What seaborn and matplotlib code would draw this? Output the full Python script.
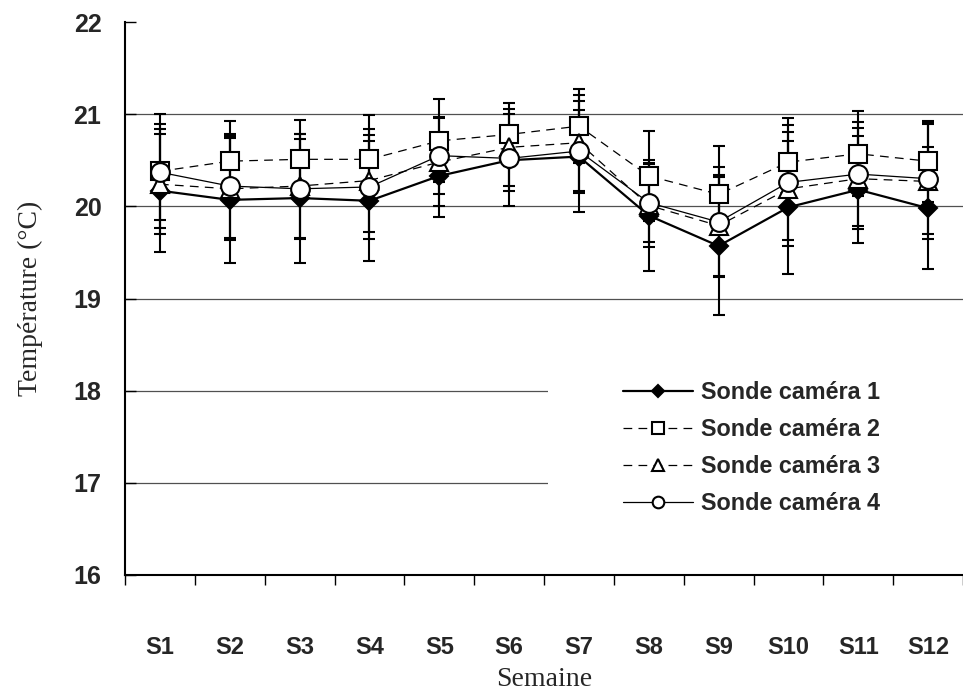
import numpy as np
import matplotlib
matplotlib.use("Agg")
import matplotlib.pyplot as plt
from matplotlib.patches import Rectangle
import seaborn as sns

# ---------------- data ----------------
weeks = ["S1", "S2", "S3", "S4", "S5", "S6", "S7", "S8", "S9", "S10", "S11", "S12"]
labels = ["Sonde caméra 1", "Sonde caméra 2", "Sonde caméra 3", "Sonde caméra 4"]

cam1 = [20.17, 20.07, 20.09, 20.06, 20.33, 20.50, 20.54, 19.90, 19.57, 19.99, 20.18, 19.98]
cam1_sd = [0.67, 0.69, 0.70, 0.65, 0.45, 0.50, 0.60, 0.60, 0.75, 0.72, 0.58, 0.66]
cam2 = [20.38, 20.49, 20.51, 20.51, 20.71, 20.78, 20.87, 20.33, 20.13, 20.48, 20.57, 20.49]
cam2_sd = [0.62, 0.44, 0.43, 0.48, 0.45, 0.34, 0.40, 0.49, 0.53, 0.48, 0.46, 0.44]
cam3 = [20.24, 20.19, 20.22, 20.28, 20.48, 20.64, 20.69, 20.01, 19.79, 20.19, 20.30, 20.27]
cam3_sd = [0.54, 0.55, 0.56, 0.56, 0.48, 0.42, 0.52, 0.45, 0.55, 0.62, 0.55, 0.62]
cam4 = [20.37, 20.22, 20.19, 20.21, 20.55, 20.52, 20.60, 20.04, 19.83, 20.26, 20.35, 20.30]
cam4_sd = [0.52, 0.56, 0.54, 0.56, 0.42, 0.35, 0.45, 0.43, 0.60, 0.62, 0.56, 0.60]

y_ticks = [16, 17, 18, 19, 20, 21, 22]

# ---------------- style ----------------
sns.set_style("white")
plt.rcParams["font.family"] = ["Liberation Sans", "DejaVu Sans"]

fig = plt.figure(figsize=(9.63, 6.91), dpi=100)
ax = fig.add_axes([125 / 963, 1 - 575 / 691, 1 - 125 / 963, (575 - 22) / 691])

x = np.arange(len(weeks))

series = [
    dict(v=cam1, sd=cam1_sd, ls="-", lw=1.6, marker="D", ms=9.5, mfc="black"),
    dict(v=cam2, sd=cam2_sd, ls=(0, (7, 5)), lw=0.9, marker="s", ms=13, mfc="white"),
    dict(v=cam3, sd=cam3_sd, ls=(0, (7, 5)), lw=0.9, marker="^", ms=13, mfc="white"),
    dict(v=cam4, sd=cam4_sd, ls="-", lw=0.9, marker="o", ms=13.5, mfc="white"),
]

for s in series:
    ax.errorbar(x, s["v"], yerr=s["sd"], fmt="none", ecolor="black",
                elinewidth=1.5, capsize=4.3, capthick=1.5, zorder=2)

for i, (s, lab) in enumerate(zip(series, labels)):
    sns.lineplot(x=x, y=s["v"], ax=ax, color="black", linewidth=s["lw"],
                 linestyle=s["ls"], marker=s["marker"], markersize=s["ms"],
                 markerfacecolor=s["mfc"], markeredgecolor="black",
                 markeredgewidth=1.5, errorbar=None, label=lab, zorder=3 + i)

# axes limits and ticks
ax.set_xlim(-0.5, len(weeks) - 0.5)
ax.set_ylim(y_ticks[0], y_ticks[-1])
ax.set_yticks(y_ticks)
ax.set_yticklabels([str(t) for t in y_ticks], fontsize=18, fontweight="bold")
ax.set_xticks(x)
ax.set_xticklabels(weeks, fontsize=17, fontweight="bold")
ax.set_xticks(np.arange(-0.5, len(weeks), 1.0), minor=True)
ax.tick_params(axis="x", which="major", length=0, pad=44)
ax.tick_params(axis="x", which="minor", direction="out", length=7, width=1, color="black", bottom=True)
ax.tick_params(axis="y", which="major", direction="in", length=8, width=1, color="black", left=True, pad=17)

# gridlines (none on the top value)
ax.yaxis.grid(True, color="#505050", linewidth=0.9, zorder=0)
ax.xaxis.grid(False)
ax.set_axisbelow(True)
gl = ax.yaxis.get_gridlines()
gl[-1].set_visible(False)

for sp in ["top", "right"]:
    ax.spines[sp].set_visible(False)
for sp in ["left", "bottom"]:
    ax.spines[sp].set_color("black")
    ax.spines[sp].set_linewidth(1.5)

ax.set_xlabel("Semaine", family=["Liberation Serif", "DejaVu Serif"], fontsize=20, labelpad=6)
ax.set_ylabel("Température (°C)", family=["Liberation Serif", "DejaVu Serif"], fontsize=20, labelpad=22)

# white legend background that hides the lower gridlines
ax.add_patch(Rectangle((0.505, 0.06), 0.5, 0.35, transform=ax.transAxes,
                       facecolor="white", edgecolor="none", zorder=1))

leg = ax.legend(loc="center left", bbox_to_anchor=(0.594, 0.230), frameon=False,
                prop={"weight": "bold", "size": 16.8}, handlelength=3.0,
                handletextpad=0.35, labelspacing=0.6, borderpad=0, borderaxespad=0,
                markerscale=0.62)
leg.set_zorder(10)

fig.savefig("out.png", dpi=100)
